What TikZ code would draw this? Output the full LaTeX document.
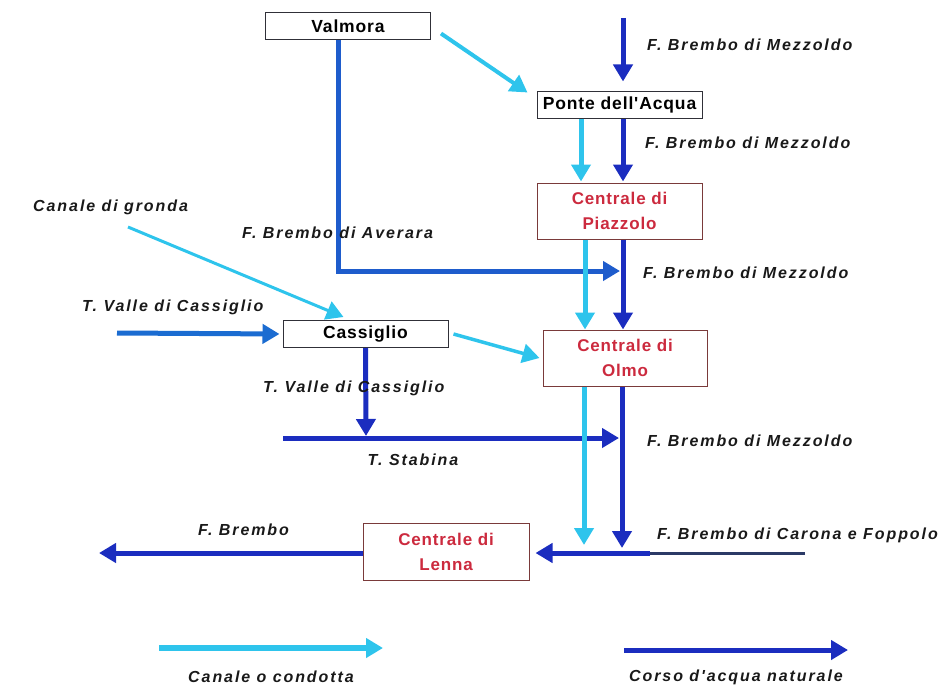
\documentclass[tikz,border=0pt]{standalone}
\usepackage{fontspec}
\setmainfont{Liberation Sans}
\newfontfamily\lblfont[LetterSpace=12]{Liberation Sans}
\newfontfamily\boxfont[LetterSpace=5]{Liberation Sans}
\usetikzlibrary{arrows.meta}
\definecolor{cyanw}{HTML}{2EC4EC}
\definecolor{darkb}{HTML}{1B2DBF}
\definecolor{medb}{HTML}{1E5CCC}
\definecolor{navyt}{HTML}{2B3A66}
\definecolor{redt}{HTML}{CC2A3E}
\definecolor{redborder}{HTML}{7A3A3A}
\definecolor{boxborder}{HTML}{303038}
\begin{document}
\begin{tikzpicture}[x=1pt,y=-1pt,
  lbl/.style={font=\lblfont\bfseries\itshape\fontsize{16}{19}\selectfont, inner sep=0pt, anchor=west, text=black!90},
  lblc/.style={lbl, anchor=center},
  plainbox/.style={draw=boxborder, fill=white, line width=1pt, font=\boxfont\bfseries\fontsize{17.5}{20}\selectfont, inner sep=0pt, minimum height=27pt, minimum width=165pt},
  centralbox/.style={draw=redborder, fill=white, line width=1pt, font=\boxfont\bfseries\fontsize{17}{25}\selectfont, text=redt, align=center, inner sep=0pt, minimum height=56pt, minimum width=165pt},
  tip/.style={-{Triangle[length=17pt,width=19pt]}},
  cy/.style={draw=cyanw, line width=5pt, tip},
  dk/.style={draw=darkb, line width=5pt, tip},
  md/.style={draw=medb, line width=5pt, tip},
]
\useasboundingbox (0,0) rectangle (950,685);

% nodes
\node[plainbox] (valmora) at (348,26.5) {Valmora};
\node[plainbox] (ponte) at (619.5,104.5) {Ponte dell'Acqua};
\node[centralbox] (piazzolo) at (619.5,211) {Centrale di\\Piazzolo};
\node[plainbox] (cassiglio) at (365.5,334) {Cassiglio};
\node[centralbox, minimum width=164pt] (olmo) at (625,358) {Centrale di\\Olmo};
\node[centralbox, minimum height=57pt, minimum width=166pt] (lenna) at (446,551.5) {Centrale di\\Lenna};

% free ends and columns
\coordinate (topsrc) at (623,18);
\coordinate (pcx) at (581,0);
\coordinate (pdx) at (623,0);
\coordinate (ocx) at (585,0);
\coordinate (odx) at (623,0);
\coordinate (avx) at (338,0);
\coordinate (avj) at (620,271);
\coordinate (gronda) at (128,227);
\coordinate (tvc) at (117,333);
\coordinate (stj) at (366,436);
\coordinate (stab) at (283,438);
\coordinate (stabj) at (619,438);
\coordinate (lcx) at (584,0);
\coordinate (ldx) at (622,0);
\coordinate (cj) at (584,545);
\coordinate (dj) at (622,548);
\coordinate (carona) at (805,553);
\coordinate (caronaj) at (650,553);
\coordinate (fbout) at (99,553);
\coordinate (lc1) at (159,648);
\coordinate (lc2) at (383,648);
\coordinate (ld1) at (624,650);
\coordinate (ld2) at (848,650);

% connectors
\draw[cy, line width=4pt] ([shift={(10pt,-7pt)}]valmora.east) -- ([shift={(-9pt,-2pt)}]ponte.north west);
\draw[dk, shorten >=9pt] (topsrc) -- (ponte.north -| topsrc);
\draw[cy, shorten >=1pt] (ponte.south -| pcx) -- (piazzolo.north -| pcx);
\draw[dk, shorten >=1pt] (ponte.south -| pdx) -- (piazzolo.north -| pdx);

\draw[md] (valmora.south -| avx) |- (avj);
\draw[cy] (piazzolo.south -| ocx) -- (olmo.north -| ocx);
\draw[dk] (piazzolo.south -| odx) -- (olmo.north -| odx);

\draw[cy, line width=3pt] (gronda) -- ([shift={(-22pt,3pt)}]cassiglio.north);
\draw[md, draw=medb!90!cyan, shorten >=3pt] (tvc) -- (cassiglio.west);
\draw[cy, line width=3.5pt] ([xshift=5pt]cassiglio.east) -- ([xshift=-3pt]olmo.west);
\draw[dk] (cassiglio.south) -- (stj);
\draw[dk] (stab) -- (stabj);

\draw[cy] (olmo.south -| lcx) -- (cj);
\draw[dk] (olmo.south -| ldx) -- (dj);
\draw[draw=navyt, line width=3pt] (carona) -- (caronaj);
\draw[dk, shorten >=6pt] (caronaj) -- (lenna.east |- caronaj);
\draw[dk] (lenna.west |- fbout) -- (fbout);

% legend
\draw[cy, line width=6pt] (lc1) -- (lc2);
\draw[dk] (ld1) -- (ld2);

% labels
\node[lbl] (l1) at (647,45) {F. Brembo di Mezzoldo};
\node[lbl] (l2) at (645,143) {F. Brembo di Mezzoldo};
\node[lbl] (l3) at (643,273) {F. Brembo di Mezzoldo};
\node[lbl] (l4) at (647,441) {F. Brembo di Mezzoldo};
\node[lbl] (l5) at (242,233) {F. Brembo di Averara};
\node[lbl] (l6) at (33,207) {Canale di gronda};
\node[lbl] (l7) at (82,307) {T. Valle di Cassiglio};
\node[lbl] (l8) at (263,388) {T. Valle di Cassiglio};
\node[lblc] (l9) at (413,460) {T. Stabina};
\node[lbl] (l10) at (198,530) {F. Brembo};
\node[lbl] (l11) at (657,535) {F. Brembo di Carona e Foppolo};
\node[lblc] (l12) at (271,677) {Canale o condotta};
\node[lblc] (l13) at (736,677) {Corso d'acqua naturale};
\end{tikzpicture}
\end{document}
